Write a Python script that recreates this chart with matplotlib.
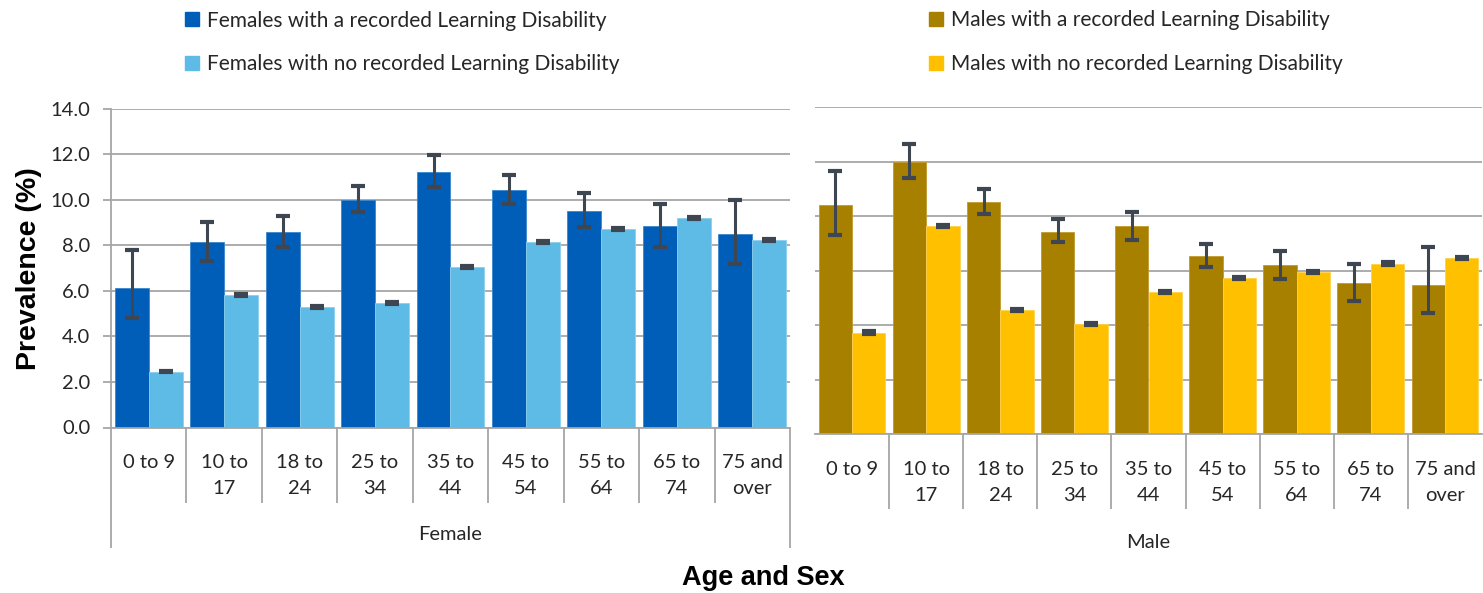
import numpy as np
import matplotlib
matplotlib.use("Agg")
import matplotlib.pyplot as plt
from matplotlib.patches import Patch

# Prevalence (%) by age band
age_groups = ["0 to 9", "10 to\n17", "18 to\n24", "25 to\n34", "35 to\n44",
              "45 to\n54", "55 to\n64", "65 to\n74", "75 and\nover"]

female_ld = [6.12, 8.16, 8.56, 9.98, 11.21, 10.44, 9.48, 8.86, 8.48]
female_ld_low = [4.80, 7.31, 7.94, 9.44, 10.54, 9.82, 8.82, 7.94, 7.16]
female_ld_high = [7.79, 9.04, 9.27, 10.61, 11.95, 11.07, 10.29, 9.82, 9.98]
female_no = [2.44, 5.80, 5.28, 5.46, 7.06, 8.15, 8.70, 9.19, 8.23]
female_no_low = [2.42, 5.76, 5.24, 5.42, 7.02, 8.11, 8.66, 9.15, 8.19]
female_no_high = [2.47, 5.84, 5.32, 5.50, 7.10, 8.19, 8.74, 9.23, 8.27]

male_ld = [8.41, 9.99, 8.53, 7.42, 7.62, 6.52, 6.19, 5.54, 5.47]
male_ld_low = [7.31, 9.38, 8.09, 7.04, 7.12, 6.14, 5.68, 4.90, 4.45]
male_ld_high = [9.65, 10.64, 9.00, 7.91, 8.16, 6.97, 6.71, 6.26, 6.86]
male_no = [3.72, 7.63, 4.56, 4.03, 5.21, 5.73, 5.95, 6.25, 6.45]
male_no_low = [3.68, 7.59, 4.52, 3.99, 5.17, 5.69, 5.91, 6.21, 6.41]
male_no_high = [3.77, 7.68, 4.61, 4.08, 5.26, 5.78, 6.00, 6.31, 6.50]

female_labels = ["Females with a recorded Learning Disability",
                 "Females with no recorded Learning Disability"]
male_labels = ["Males with a recorded Learning Disability",
               "Males with no recorded Learning Disability"]

W, H = 1483, 593
fig = plt.figure(figsize=(W / 100, H / 100), dpi=100)

GRID = "#A6A6A6"
ERR = "#3E4651"
TXT = "#262626"
LABEL_FONT = "Lato"


def px_axes(x0, y0, x1, y1):
    # pixel box (top-left origin) -> axes
    return fig.add_axes([x0 / W, 1 - y1 / H, (x1 - x0) / W, (y1 - y0) / H])


def draw_panel(ax, ld, ld_lo, ld_hi, no, no_lo, no_hi, colors, ymax):
    x = np.arange(len(age_groups))
    w = 0.45
    ld = np.array(ld)
    no = np.array(no)
    ld_err = [ld - np.array(ld_lo), np.array(ld_hi) - ld]
    no_err = [no - np.array(no_lo), np.array(no_hi) - no]
    ax.bar(x - w / 2, ld, w, color=colors[0], edgecolor=colors[2], linewidth=0.6,
           zorder=2)
    ax.bar(x + w / 2, no, w, color=colors[1], edgecolor=colors[3], linewidth=0.6,
           zorder=2)
    ax.errorbar(x - w / 2, ld, yerr=ld_err, fmt="none", ecolor=ERR, elinewidth=2.2,
                capsize=5, capthick=3, zorder=3)
    ax.errorbar(x + w / 2, no, yerr=no_err, fmt="none", ecolor=ERR, elinewidth=2.2,
                capsize=5, capthick=3, zorder=3)
    ax.set_xlim(-0.5, len(age_groups) - 0.5)
    ax.set_ylim(0, ymax)
    ax.set_yticks(np.arange(0, ymax + 0.1, 2))
    ax.yaxis.grid(True, color=GRID, linewidth=1.3)
    ax.set_axisbelow(True)
    ax.set_xticks(x)
    ax.set_xticklabels(age_groups, fontsize=14.5, family=LABEL_FONT, color=TXT,
                       linespacing=1.65)
    ax.tick_params(axis="x", length=0, pad=19)
    for s in ["top", "right"]:
        ax.spines[s].set_visible(False)
    ax.spines["bottom"].set_color(GRID)
    ax.spines["bottom"].set_linewidth(1.3)


def separators(ax, axis_y, inner_bottom, outer_bottom=None):
    h = ax.get_position().height * H
    n = len(age_groups)
    inner = np.arange(0.5, n - 0.5, 1.0)
    ax.vlines(inner, -(inner_bottom - axis_y) / h, 0, transform=ax.get_xaxis_transform(),
              color=GRID, linewidth=1.3, clip_on=False)
    if outer_bottom is not None:
        ax.vlines([-0.5, n - 0.5], -(outer_bottom - axis_y) / h, 0,
                  transform=ax.get_xaxis_transform(), color=GRID, linewidth=1.3,
                  clip_on=False)


female_colors = ["#005EB8", "#5DBBE6", "#3A86CC", "#8CD0EE"]
male_colors = ["#A88000", "#FFC000", "#C09A30", "#FFD24D"]

# Female panel
axf = px_axes(111, 108.5, 790, 427.5)
draw_panel(axf, female_ld, female_ld_low, female_ld_high,
           female_no, female_no_low, female_no_high, female_colors, 14)
axf.set_yticklabels([f"{v:.1f}" for v in np.arange(0, 14.1, 2)])
axf.tick_params(axis="y", length=6, width=1.3, color=GRID, labelsize=14.5,
                labelcolor=TXT, pad=9)
for lbl in axf.get_yticklabels():
    lbl.set_family(LABEL_FONT)
axf.spines["left"].set_color(GRID)
axf.spines["left"].set_linewidth(1.3)
separators(axf, 427.5, 503, 548)

# Male panel
axm = px_axes(815, 107, 1482, 434.3)
draw_panel(axm, male_ld, male_ld_low, male_ld_high,
           male_no, male_no_low, male_no_high, male_colors, 12)
axm.spines["left"].set_visible(False)
axm.tick_params(axis="y", length=0, labelleft=False)
separators(axm, 434.3, 509)

# Group labels and axis titles
fig.text(450 / W, 1 - 534 / H, "Female", ha="center", va="center",
         fontsize=14.5, family=LABEL_FONT, color=TXT)
fig.text(1148 / W, 1 - 542 / H, "Male", ha="center", va="center",
         fontsize=14.5, family=LABEL_FONT, color=TXT)
fig.text(763 / W, 1 - 578 / H, "Age and Sex", ha="center", va="center",
         fontsize=19.5, fontweight="bold", family="Liberation Sans", color="black")
fig.text(29 / W, 1 - 269 / H, "Prevalence (%)", ha="center", va="center",
         rotation=90, fontsize=20.5, fontweight="bold", family="Liberation Sans",
         color="black")

# Legends
leg_kw = dict(loc="center left", frameon=False, borderpad=0, borderaxespad=0,
              handlelength=0.65, handleheight=0.65, handletextpad=0.4,
              labelspacing=1.15, prop={"family": LABEL_FONT, "size": 15},
              labelcolor=TXT)
fig.legend([Patch(color=female_colors[0]), Patch(color=female_colors[1])],
           female_labels, bbox_to_anchor=(185 / W, 1 - 42.5 / H), **leg_kw)
fig.legend([Patch(color=male_colors[0]), Patch(color=male_colors[1])],
           male_labels, bbox_to_anchor=(929 / W, 1 - 42 / H), **leg_kw)

fig.savefig("out.png", dpi=100)
